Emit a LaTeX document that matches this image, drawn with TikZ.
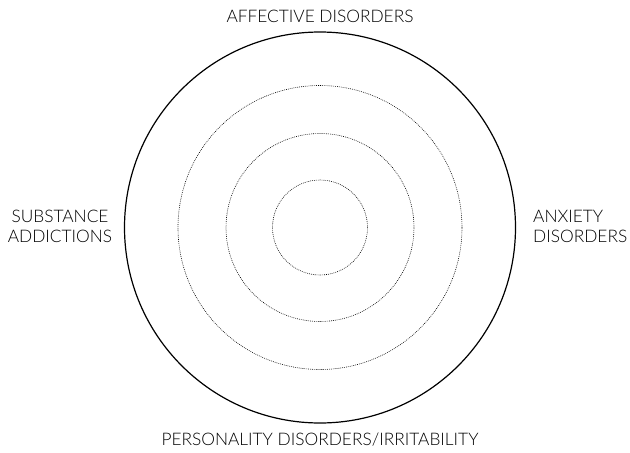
\documentclass[tikz,border=0pt]{standalone}
\usepackage{fontspec}
\setmainfont{Lato}[UprightFont=* Light]
\begin{document}
\begin{tikzpicture}[x=1pt,y=-1pt,
    ring/.style={circle,draw,line width=0.6pt,dash pattern=on 0.8pt off 1.1pt,minimum size=#1,inner sep=0pt},
    lbl/.style={font=\fontsize{17.3}{20}\selectfont,inner sep=0pt}]
  \useasboundingbox (0,0) rectangle (630,453);
  % outer ring and the three dotted levels
  \node[circle,draw,line width=1.2pt,minimum size=391pt,inner sep=0pt] (outer) at (320,227.5) {};
  \node[ring=284pt] (r3) at (outer.center) {};
  \node[ring=188pt] (r2) at (outer.center) {};
  \node[ring=95pt] (r1) at (outer.center) {};
  % labels round the ring
  \node[lbl] (affective) at (320,16) {AFFECTIVE DISORDERS};
  \node[lbl] (personality) at (320,440) {PERSONALITY DISORDERS/IRRITABILITY};
  \node[lbl,align=center] (substance) at (60,226) {SUBSTANCE\\ADDICTIONS};
  \node[lbl,align=left,anchor=west] (anxiety) at (533,226) {ANXIETY\\DISORDERS};
\end{tikzpicture}
\end{document}
